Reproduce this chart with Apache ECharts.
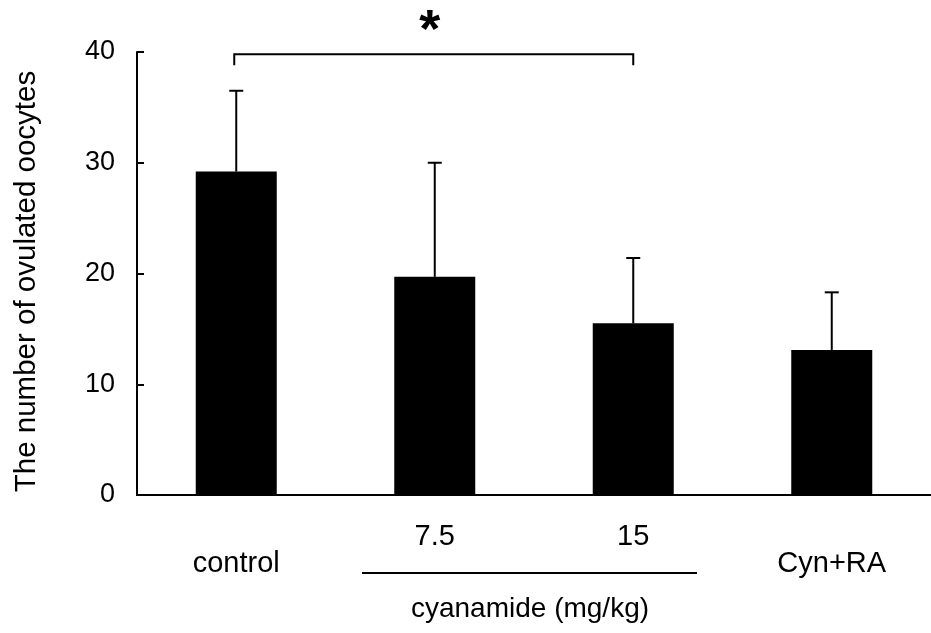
<!DOCTYPE html>
<html>
<head>
<meta charset="utf-8">
<script src="https://cdn.jsdelivr.net/npm/echarts@6/dist/echarts.min.js"></script>
<style>
html,body{margin:0;padding:0;background:#fff;}
#chart{width:931px;height:633px;}
</style>
</head>
<body>
<div id="chart"></div>
<script>
// ---- data ----
const categories = ['control', '7.5', '15', 'Cyn+RA'];
const means = [29.2, 19.7, 15.5, 13.1];
const sds = [7.3, 10.3, 5.9, 5.2];
const yMin = 0, yMax = 40, yInterval = 10;
const yTitle = 'The number of ovulated oocytes';
const groupLabel = 'cyanamide (mg/kg)';
// significance bracket: from category index, to category index, level, drop end, label
const sigFrom = [0];
const sigTo = [2];
const sigLevel = [39.8];
const sigDrop = [38.8];
const sigText = ['*'];

const chart = echarts.init(document.getElementById('chart'));
const sansFont = '"Liberation Sans", Arial, sans-serif';
const narrowFont = '"Liberation Sans Narrow", "Liberation Sans", Arial, sans-serif';

const errData = categories.map((c, i) => [i, means[i], means[i] + sds[i]]);
const sigData = sigFrom.map((f, i) => [f, sigTo[i], sigLevel[i], sigDrop[i], sigText[i]]);

const option = {
  backgroundColor: '#fff',
  animation: false,
  grid: { left: 137, top: 52, width: 800, bottom: 138, containLabel: false },
  xAxis: {
    type: 'category',
    data: categories,
    boundaryGap: true,
    axisLine: { lineStyle: { color: '#000', width: 2 } },
    axisTick: { inside: true, length: 7, lineStyle: { color: '#000', width: 2 } },
    axisLabel: {
      margin: 27,
      color: '#000',
      fontFamily: sansFont,
      fontSize: 29,
      formatter: function (v) {
        return (v === '7.5' || v === '15') ? '{b|' + v + '}' : '{a|' + v + '}';
      },
      rich: {
        a: { fontFamily: sansFont, fontSize: 29, color: '#000', padding: [27, 0, 0, 0] },
        b: { fontFamily: sansFont, fontSize: 29, color: '#000' }
      }
    },
    splitLine: { show: false }
  },
  yAxis: {
    type: 'value',
    min: yMin, max: yMax, interval: yInterval,
    name: yTitle,
    nameLocation: 'middle',
    nameGap: 95,
    nameTextStyle: { fontFamily: sansFont, fontSize: 29.5, color: '#000', padding: [0, 16, 0, 0] },
    axisLine: { show: true, lineStyle: { color: '#000', width: 2 } },
    axisTick: { show: true, inside: true, length: 7, lineStyle: { color: '#000', width: 2 } },
    axisLabel: { margin: 22, color: '#000', fontFamily: narrowFont, fontSize: 27 },
    splitLine: { show: false }
  },
  series: [
    {
      type: 'bar',
      data: means,
      barWidth: 81,
      itemStyle: { color: '#000' },
      z: 2
    },
    {
      type: 'custom',
      data: errData,
      z: 3,
      renderItem: function (params, api) {
        const x = api.value(0);
        const lo = api.coord([x, api.value(1)]);
        const hi = api.coord([x, api.value(2)]);
        const hw = 7;
        return {
          type: 'group',
          children: [
            { type: 'line', shape: { x1: lo[0], y1: lo[1], x2: hi[0], y2: hi[1] }, style: { stroke: '#000', lineWidth: 2 } },
            { type: 'line', shape: { x1: hi[0] - hw, y1: hi[1], x2: hi[0] + hw, y2: hi[1] }, style: { stroke: '#000', lineWidth: 2 } }
          ]
        };
      }
    },
    {
      type: 'custom',
      data: sigData,
      z: 4,
      renderItem: function (params, api) {
        const a = api.coord([api.value(0), api.value(2)]);
        const b = api.coord([api.value(1), api.value(2)]);
        const d = api.coord([api.value(0), api.value(3)]);
        const dy = d[1];
        const ax = a[0] - 2, bx = b[0];
        return {
          type: 'group',
          children: [
            { type: 'polyline', shape: { points: [[ax, dy], [ax, a[1]], [bx, b[1]], [bx, dy]] }, style: { stroke: '#000', lineWidth: 2, fill: null } },
            { type: 'text', style: { text: sigText[params.dataIndex], x: (ax + bx) / 2 - 4, y: a[1] - 22, align: 'center', verticalAlign: 'middle', font: 'bold 54px "Liberation Sans", Arial, sans-serif', fill: '#000' } }
          ]
        };
      }
    }
  ],
  graphic: [
    { type: 'line', shape: { x1: 362, y1: 573, x2: 697, y2: 573 }, style: { stroke: '#000', lineWidth: 2 } },
    { type: 'text', style: { text: groupLabel, x: 530, y: 609, align: 'center', verticalAlign: 'middle', font: '28px "Liberation Sans", Arial, sans-serif', fill: '#000' } }
  ]
};
chart.setOption(option);
</script>
</body>
</html>
